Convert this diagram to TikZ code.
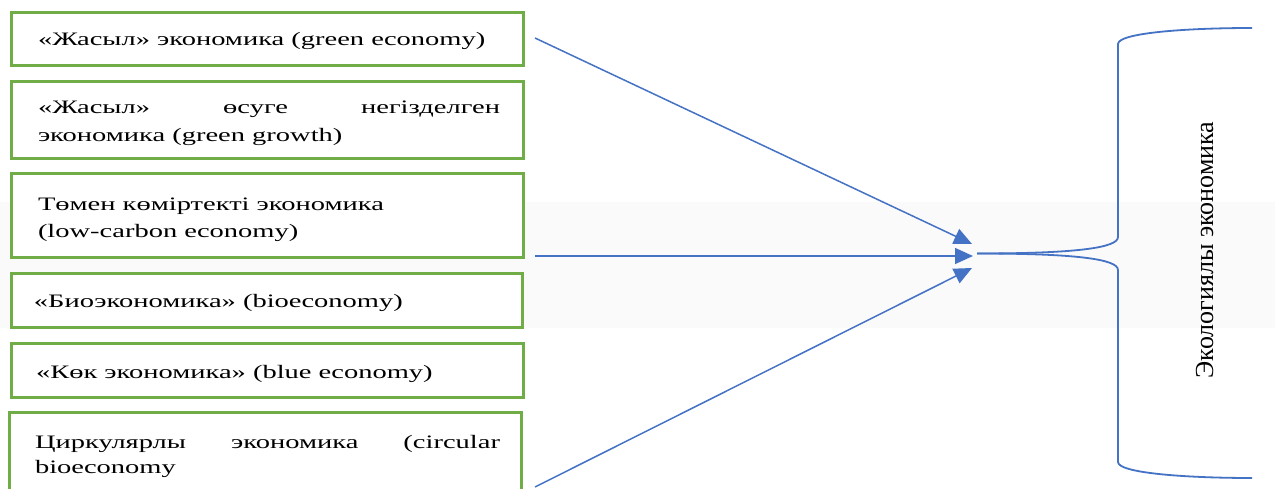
\documentclass[tikz,border=0pt]{standalone}
\usepackage{fontspec}
\setmainfont{Liberation Serif}[FakeStretch=1.5]
\newfontfamily\rotfont{Liberation Serif}
\usetikzlibrary{arrows.meta}
\definecolor{boxgreen}{HTML}{70AD47}
\definecolor{lineblue}{HTML}{4472C4}
\definecolor{bandgray}{HTML}{FAFAFA}
\tikzset{
  gbox/.style={draw=boxgreen, line width=3pt, fill=white, inner sep=0pt, outer sep=0pt, anchor=north west},
  btext/.style={anchor=base west, inner sep=0pt, outer sep=0pt, font=\fontsize{19pt}{21pt}\selectfont},
  conn/.style={draw=lineblue, line width=1.5pt, -{Triangle[length=18pt,width=16pt]}},
  bracepath/.style={draw=lineblue, line width=1.8pt}
}
\begin{document}
\begin{tikzpicture}[x=1pt,y=-1pt]
\useasboundingbox (0,0) rectangle (1275,489);
\clip (0,0) rectangle (1275,489);
\fill[white] (0,0) rectangle (1275,489);
\fill[bandgray] (0,202) rectangle (1275,328);
% boxes
\node[gbox, minimum width=512pt, minimum height=53pt] (b1) at (11,13) {};
\node[gbox, minimum width=512pt, minimum height=77pt] (b2) at (11,82) {};
\node[gbox, minimum width=512pt, minimum height=84pt] (b3) at (11,174) {};
\node[gbox, minimum width=511pt, minimum height=53pt] (b4) at (11,274) {};
\node[gbox, minimum width=512pt, minimum height=54pt] (b5) at (11,343) {};
\node[gbox, minimum width=512pt, minimum height=100pt] (b6) at (9,412) {};
% texts
\node[btext] (t1) at (38,46) {«Жасыл» экономика (green economy)};
\node[btext] (t2) at (38,114) {\parbox[t]{462pt}{\baselineskip=28pt\makebox[462pt][s]{«Жасыл» өсуге негізделген}\\экономика (green growth)}};
\node[btext] (t3) at (38,211) {\parbox[t]{462pt}{\baselineskip=27pt Төмен көміртекті экономика\\(low-carbon economy)}};
\node[btext] (t4) at (34,308) {«Биоэкономика» (bioeconomy)};
\node[btext] (t5) at (36,378) {«Көк экономика» (blue economy)};
\node[btext] (t6) at (35,448) {\parbox[t]{465pt}{\baselineskip=25pt\makebox[465pt][s]{Циркулярлы экономика (circular}\\bioeconomy}};
% connectors
\coordinate (s1) at (535,38);
\coordinate (s2) at (535,256);
\coordinate (s3) at (535,487);
\coordinate (e1) at (972,244);
\coordinate (e2) at (973,256);
\coordinate (e3) at (972,268);
\draw[conn] (s1) -- (e1);
\draw[conn] (s2) -- (e2);
\draw[conn] (s3) -- (e3);
% brace
\coordinate (hub) at (977,253.5);
\coordinate (bu) at (1118,237);
\coordinate (bt) at (1118,44);
\coordinate (bl) at (1118,270);
\coordinate (bb) at (1118,462);
\coordinate (et) at (1252,28);
\coordinate (eb) at (1252,478);
\draw[bracepath] (hub) .. controls (1075,253.5) and (1118,248) .. (bu) -- (bt) .. controls (1118,33) and (1185,28) .. (et);
\draw[bracepath] (hub) .. controls (1075,253.5) and (1118,259) .. (bl) -- (bb) .. controls (1118,473) and (1185,478) .. (eb);
\node[rotate=90, anchor=base, inner sep=0pt, font=\rotfont\fontsize{26pt}{30pt}\selectfont] (eco) at (1213,250) {Экологиялы экономика};
\end{tikzpicture}
\end{document}
